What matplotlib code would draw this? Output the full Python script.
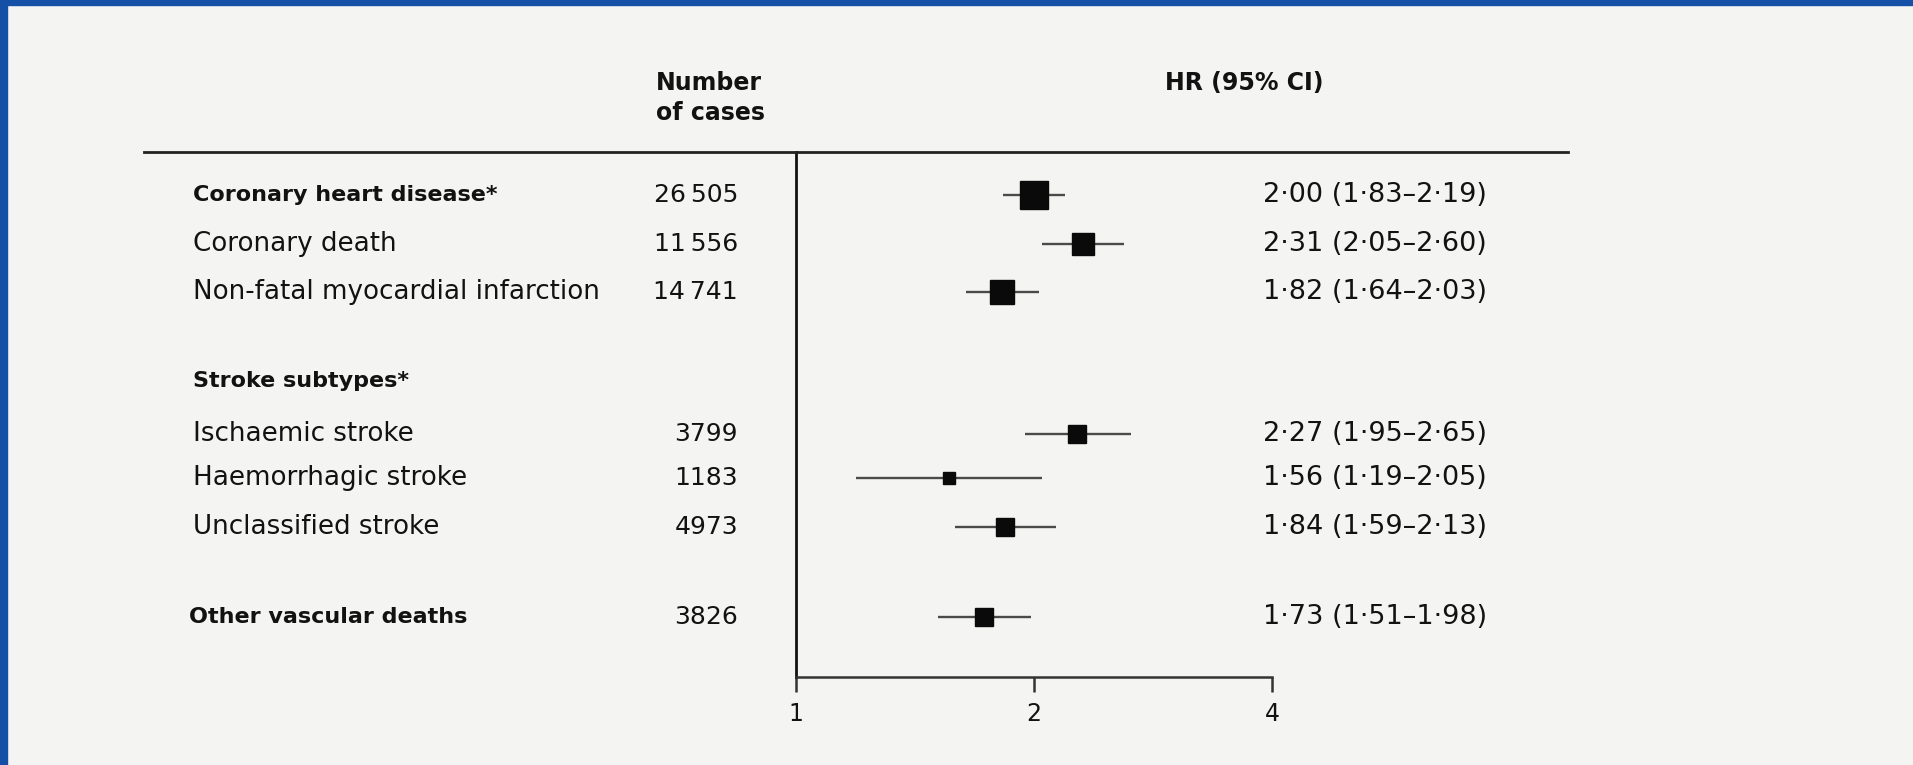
import matplotlib
matplotlib.use("Agg")
import matplotlib.pyplot as plt
import matplotlib.transforms as mtransforms
from matplotlib.lines import Line2D
from matplotlib.patches import Rectangle
from matplotlib.ticker import FixedLocator, NullLocator

# data
outcomes = ["Coronary heart disease*", "Coronary death", "Non-fatal myocardial infarction",
            "Ischaemic stroke", "Haemorrhagic stroke", "Unclassified stroke",
            "Other vascular deaths"]
cases = [26505, 11556, 14741, 3799, 1183, 4973, 3826]
hr = [2.00, 2.31, 1.82, 2.27, 1.56, 1.84, 1.73]
ci_low = [1.83, 2.05, 1.64, 1.95, 1.19, 1.59, 1.51]
ci_high = [2.19, 2.60, 2.03, 2.65, 2.05, 2.13, 1.98]
bold_rows = [True, False, False, False, False, False, True]
group_header = "Stroke subtypes*"
x_ticks = [1, 2, 4]

# layout: row slots (top to bottom)
rows = [0, 1, 2, 4.93, 5.84, 6.85, 8.7]
header_row = 3.84

W, H = 1913, 765
bg = "#f4f4f2"
ink = "#121212"
plt.rcParams["font.family"] = ["DejaVu Sans"]

fig = plt.figure(figsize=(W / 100, H / 100), dpi=100, facecolor=bg)

# blue slide border (left and top)
fig.patches.append(Rectangle((0, 0), 7 / W, 1, transform=fig.transFigure, color="#1450a6", zorder=10))
fig.patches.append(Rectangle((0, 1 - 5 / H), 1, 5 / H, transform=fig.transFigure, color="#1450a6", zorder=10))

ax = fig.add_axes([796 / W, 1 - 677 / H, (1272 - 796) / W, (677 - 152) / H])
ax.set_facecolor("none")
ax.set_xscale("log")
ax.set_xlim(1, 4)
ax.set_ylim(9.94, -0.89)

for s in ["top", "right"]:
    ax.spines[s].set_visible(False)
ax.spines["left"].set_linewidth(2.0)
ax.spines["bottom"].set_linewidth(1.8)
ax.spines["left"].set_color(ink)
ax.spines["bottom"].set_color("#333333")

ax.xaxis.set_major_locator(FixedLocator(x_ticks))
ax.xaxis.set_minor_locator(NullLocator())
ax.set_xticklabels([str(t) for t in x_ticks])
ax.tick_params(axis="x", direction="out", length=11, width=1.8, color="#333333",
               labelsize=17, labelcolor=ink, pad=7)
ax.set_yticks([])

# CIs and point estimates
ax.hlines(rows, ci_low, ci_high, color="#4a4a4a", lw=1.7, zorder=2)
for y, v, n in zip(rows, hr, cases):
    size = 20 * (n / max(cases)) ** 0.25
    ax.plot(v, y, marker="s", ms=size, color="#0a0a0a", zorder=3)

# table text, x in figure fraction, y in row units
tr = mtransforms.blended_transform_factory(fig.transFigure, ax.transData)
fs = 18.8
fs_b = 16
fs_num = 18
fs_hr = 19.5
fs_head = 17

for y, name, n, v, lo, hi, b in zip(rows, outcomes, cases, hr, ci_low, ci_high, bold_rows):
    lx = 189 / W if name.startswith("Other") else 193 / W
    ax.text(lx, y, name, transform=tr, ha="left", va="center", fontsize=fs_b if b else fs,
            fontweight="bold" if b else "normal", color=ink)
    num = f"{n:,}".replace(",", "\u2009") if n >= 10000 else str(n)
    ax.text(738 / W, y, num, transform=tr, ha="right", va="center", fontsize=fs_num, color=ink)
    lab = f"{v:.2f} ({lo:.2f}\u2013{hi:.2f})".replace(".", "\u00b7")
    ax.text(1263 / W, y, lab, transform=tr, ha="left", va="center", fontsize=fs_hr, color=ink)

ax.text(193 / W, header_row, group_header, transform=tr, ha="left", va="center",
        fontsize=fs_b, fontweight="bold", color=ink)

# column headers
fig.text(656 / W, 1 - 83 / H, "Number", ha="left", va="center", fontsize=fs_head, fontweight="bold", color=ink)
fig.text(656 / W, 1 - 113 / H, "of cases", ha="left", va="center", fontsize=fs_head, fontweight="bold", color=ink)
fig.text(1165 / W, 1 - 83 / H, "HR (95% CI)", ha="left", va="center", fontsize=fs_head, fontweight="bold", color=ink)

# rule under the headers
fig.lines.append(Line2D([144 / W, 1568 / W], [1 - 152 / H, 1 - 152 / H], transform=fig.transFigure,
                        color="#222222", lw=2.0))

fig.savefig("out.png", dpi=100, facecolor=bg)
